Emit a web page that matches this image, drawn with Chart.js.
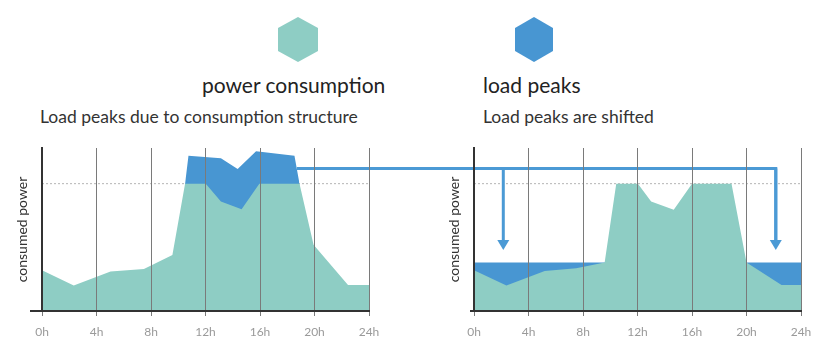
<!DOCTYPE html>
<html>
<head>
<meta charset="utf-8">
<script src="https://cdn.jsdelivr.net/npm/chart.js@4.4.1/dist/chart.umd.min.js"></script>
<style>
  body { margin: 0; background: #fff; width: 826px; height: 358px; overflow: hidden; position: relative;
         font-family: Lato, 'Open Sans', sans-serif; color: #222; }
  .t { position: absolute; white-space: nowrap; line-height: 1; }
  canvas { position: absolute; top: 140px; }
  #before { left: 0; }
  #after { left: 432px; }
</style>
</head>
<body>
<svg width="826" height="70" style="position:absolute;left:0;top:0">
  <polygon points="298,17 318,28 318,51 298,62 278,51 278,28" fill="#8ecdc4"/>
  <polygon points="534,17 553,28 553,51 534,62 515,51 515,28" fill="#4896d2"/>
</svg>
<div class="t" style="left:202px;top:74px;font-size:21px">power consumption</div>
<div class="t" style="left:483px;top:74px;font-size:21px">load peaks</div>
<div class="t" style="left:40px;top:108px;font-size:17.5px;color:#333">Load peaks due to consumption structure</div>
<div class="t" style="left:483px;top:108px;font-size:17.5px;color:#333">Load peaks are shifted</div>

<canvas id="before" width="432" height="200"></canvas>
<canvas id="after" width="394" height="200"></canvas>

<script>
// hours of the day shown on the x axis
const tickHours = [0, 4, 8, 12, 16, 20, 24];

// left: consumption with load peaks on top of it
const beforeHours = [0, 2.33, 5.03, 7.48, 9.57, 10.5, 12.02, 13.13, 14.65, 15.95, 18.9, 19.93, 22.46, 24];
const beforePower = [32, 20, 31, 33, 44, 100, 100, 86, 80, 100, 100, 52, 20.5, 20.5];
const beforePeakHours = [10.5, 10.75, 13.13, 14.36, 15.71, 18.53, 18.9];
const beforePeakPower = [100, 122, 120, 111.5, 125.5, 122, 100];

// right: same consumption, peaks moved into the night
const afterHours = [0, 2.38, 5.19, 7.5, 9.59, 10.44, 12.03, 13.0, 14.66, 16.0, 18.9, 20.0, 22.57, 24];
const afterPower = [32, 20, 31.5, 33.5, 38, 100, 100, 86, 79.5, 100, 100, 38, 20.5, 20.5];
const afterPeakHours = [0, 24];
const afterPeakPower = [38, 38];

// dotted limit line and the arrow that moves the peaks
const limitPower = 100;
const arrowPower = 112;
const arrowStartHour = 18.7;
const arrowTargetHours = [2.15, 22.15];
const arrowTipPower = 48;

const GREEN = '#8ecdc4';
const BLUE = '#4896d2';
const ARROW = '#4b9ad5';

function points(xs, ys) {
  return xs.map((x, i) => ({ x: x, y: ys[i] }));
}

// draws the shifting arrow and the little stub of the baseline left of the y axis
const arrowPlugin = {
  id: 'arrows',
  afterDatasetsDraw(chart, args, opts) {
    const ctx = chart.ctx;
    const xs = chart.scales.x, ys = chart.scales.y;
    const area = chart.chartArea;
    ctx.save();
    // baseline stub
    ctx.strokeStyle = '#333';
    ctx.lineWidth = 2;
    ctx.beginPath();
    ctx.moveTo(area.left - opts.stub, area.bottom);
    ctx.lineTo(area.left, area.bottom);
    ctx.stroke();

    ctx.strokeStyle = ARROW;
    ctx.fillStyle = ARROW;
    ctx.lineWidth = 3;
    ctx.lineJoin = 'miter';
    ctx.lineCap = 'butt';
    const y = ys.getPixelForValue(arrowPower);
    if (opts.start) {
      ctx.beginPath();
      ctx.moveTo(xs.getPixelForValue(arrowStartHour), y);
      ctx.lineTo(chart.width, y);
      ctx.stroke();
    }
    if (opts.targets) {
      const tip = ys.getPixelForValue(arrowTipPower);
      const lastX = xs.getPixelForValue(arrowTargetHours[arrowTargetHours.length - 1]);
      ctx.beginPath();
      ctx.moveTo(0, y);
      ctx.lineTo(lastX, y);
      ctx.lineTo(lastX, tip - 9);
      ctx.stroke();
      arrowTargetHours.forEach(h => {
        const x = xs.getPixelForValue(h);
        ctx.beginPath();
        ctx.moveTo(x, y);
        ctx.lineTo(x, tip - 9);
        ctx.stroke();
        ctx.beginPath();
        ctx.moveTo(x - 6, tip - 10);
        ctx.lineTo(x + 6, tip - 10);
        ctx.lineTo(x, tip);
        ctx.closePath();
        ctx.fill();
      });
    }
    ctx.restore();
  }
};

function makeChart(id, hours, power, peakHours, peakPower, arrowOpts, padRight) {
  return new Chart(document.getElementById(id), {
    type: 'line',
    data: {
      datasets: [
        {
          data: points(hours, power),
          backgroundColor: GREEN,
          borderWidth: 0,
          pointRadius: 0,
          fill: 'origin',
          tension: 0,
          order: 1
        },
        {
          data: points(peakHours, peakPower),
          backgroundColor: BLUE,
          borderWidth: 0,
          pointRadius: 0,
          fill: 'origin',
          tension: 0,
          order: 2
        },
        {
          data: points([0, 24], [limitPower, limitPower]),
          borderColor: '#b5b5b5',
          borderWidth: 1,
          borderDash: [2, 2],
          pointRadius: 0,
          fill: false,
          order: 3
        }
      ]
    },
    options: {
      responsive: false,
      animation: false,
      layout: { padding: { top: 8, right: padRight, left: 0, bottom: 0 } },
      plugins: {
        legend: { display: false },
        tooltip: { enabled: false },
        arrows: arrowOpts
      },
      scales: {
        x: {
          type: 'linear',
          min: 0,
          max: 24,
          afterBuildTicks: s => { s.ticks = tickHours.map(v => ({ value: v })); },
          afterFit: s => { s.height = 29; },
          ticks: {
            callback: v => v + 'h',
            color: '#9a9a9a',
            padding: 9,
            maxRotation: 0,
            font: { family: 'Lato', size: 12 }
          },
          grid: { display: true, color: '#7a7a7a', lineWidth: 1, tickLength: 5, z: 1 },
          border: { display: true, color: '#333', width: 2, z: 1 }
        },
        y: {
          min: 0,
          max: 128,
          afterFit: s => { s.width = 42; },
          ticks: { display: false },
          grid: { display: false },
          border: { display: true, color: '#333', width: 2, z: 1 },
          title: {
            display: true,
            text: 'consumed power',
            color: '#333',
            padding: { top: 14, bottom: 0 },
            font: { family: 'Lato', size: 14 }
          }
        }
      }
    },
    plugins: [arrowPlugin]
  });
}

makeChart('before', beforeHours, beforePower, beforePeakHours, beforePeakPower,
  { start: true, targets: false, stub: 12 }, 63);
makeChart('after', afterHours, afterPower, afterPeakHours, afterPeakPower,
  { start: false, targets: true, stub: 4 }, 25);
</script>
</body>
</html>
